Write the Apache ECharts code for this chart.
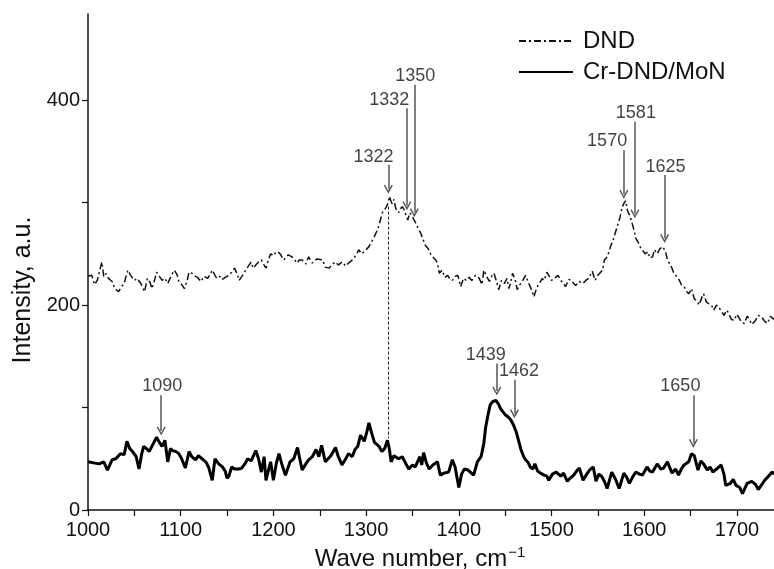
<!DOCTYPE html>
<html>
<head>
<meta charset="utf-8">
<title>Raman spectra DND / Cr-DND/MoN</title>
<script src="https://cdn.jsdelivr.net/npm/echarts@6/dist/echarts.min.js"></script>
<style>
  html, body { margin: 0; padding: 0; background: #fff; }
  #chart { width: 774px; height: 569px; }
</style>
</head>
<body>
<div id="chart"></div>
<script>
// wave number (cm-1) / intensity
const dndWave = [1000,1004,1007,1010,1013,1015,1017,1019,1022,1026,1029,1033,1036,1039,1041,1043,1046,1050,1053,1057,1059,1061,1064,1067,1069,1072,1074,1077,1080,1083,1086,1089,1093,1096,1098,1101,1104,1107,1109,1112,1114,1118,1122,1125,1129,1132,1134,1137,1139,1142,1145,1148,1152,1155,1158,1161,1163,1166,1170,1173,1176,1178,1181,1184,1187,1190,1192,1195,1197,1200,1203,1206,1208,1211,1213,1216,1220,1223,1226,1228,1231,1235,1238,1242,1244,1247,1249,1253,1256,1260,1264,1267,1270,1274,1278,1281,1284,1287,1290,1292,1295,1298,1301,1303,1306,1309,1312,1314,1316,1318,1320,1322,1324,1325,1327,1328,1330,1332,1334,1335,1337,1339,1341,1343,1345,1347,1350,1353,1356,1359,1361,1364,1367,1370,1372,1375,1377,1379,1382,1385,1388,1390,1393,1396,1399,1402,1405,1408,1411,1414,1418,1422,1425,1427,1430,1433,1436,1438,1441,1443,1446,1449,1452,1454,1456,1458,1461,1463,1466,1469,1472,1475,1478,1481,1484,1487,1490,1492,1495,1497,1500,1503,1507,1510,1513,1515,1519,1522,1526,1530,1534,1537,1540,1544,1547,1549,1552,1555,1557,1560,1562,1564,1566,1568,1570,1572,1574,1576,1578,1580,1582,1584,1586,1589,1591,1593,1596,1598,1601,1604,1606,1609,1611,1614,1617,1620,1623,1625,1627,1630,1632,1635,1638,1640,1643,1646,1648,1651,1654,1657,1659,1662,1664,1667,1670,1673,1675,1678,1681,1684,1686,1689,1691,1694,1697,1700,1702,1705,1708,1711,1713,1716,1720,1723,1727,1730,1733,1736,1740];
const dndInt = [228,229,220,224,235,242,228,231,226,223,216,213,218,221,228,234,229,224,226,221,217,213,226,222,216,225,232,228,224,226,221,227,234,230,223,220,216,224,232,231,229,227,223,228,226,230,234,229,226,228,225,227,229,232,236,230,224,228,234,238,242,236,239,242,244,239,236,245,250,248,252,251,249,244,246,249,247,244,241,244,244,240,247,241,242,245,246,244,237,236,240,242,239,242,238,241,243,246,250,254,250,252,255,257,262,267,273,278,285,291,293,296,300,306,301,299,303,294,292,290,294,296,293,294,283,290,286,281,275,270,265,258,255,249,247,244,241,231,234,227,229,226,224,228,229,218,226,224,227,224,229,226,220,234,228,223,229,231,222,215,224,221,226,216,222,231,224,215,220,224,229,222,216,208,217,221,226,224,232,229,224,226,229,224,221,218,225,223,219,223,221,224,226,233,224,228,231,234,244,247,252,258,262,268,274,280,286,295,299,302,292,288,283,273,265,262,256,257,250,252,246,247,254,250,255,257,252,244,241,236,231,228,224,220,218,213,211,216,206,204,200,207,211,203,201,199,195,200,197,193,190,195,192,186,185,191,188,183,182,189,187,181,185,190,188,184,182,189,186];

const crWave = [1000,1006,1012,1017,1021,1026,1030,1035,1039,1042,1045,1048,1052,1055,1058,1060,1063,1066,1070,1074,1077,1080,1083,1086,1089,1091,1095,1098,1101,1105,1109,1112,1116,1119,1123,1127,1130,1134,1137,1141,1145,1148,1150,1152,1155,1158,1163,1166,1170,1172,1176,1181,1184,1187,1190,1192,1195,1197,1200,1203,1206,1209,1213,1218,1222,1226,1228,1231,1235,1238,1242,1246,1249,1252,1256,1259,1262,1267,1270,1274,1278,1281,1285,1288,1291,1294,1298,1301,1303,1306,1309,1314,1317,1320,1323,1325,1327,1330,1335,1339,1343,1346,1350,1353,1358,1360,1362,1365,1368,1372,1377,1380,1384,1389,1393,1396,1400,1403,1406,1410,1416,1420,1424,1427,1429,1432,1434,1437,1440,1443,1445,1450,1453,1456,1459,1462,1465,1467,1470,1472,1475,1477,1480,1482,1485,1488,1492,1495,1497,1501,1505,1510,1513,1517,1520,1524,1527,1530,1534,1538,1541,1545,1548,1551,1554,1557,1560,1565,1569,1573,1578,1581,1584,1588,1591,1595,1598,1603,1606,1609,1614,1618,1621,1625,1630,1634,1637,1640,1643,1648,1651,1654,1658,1661,1664,1668,1671,1674,1678,1683,1686,1688,1693,1696,1699,1703,1706,1711,1716,1720,1723,1727,1730,1734,1738,1740];
const crInt = [47,46,45,47,39,49,50,55,54,67,60,57,52,40,55,62,60,57,64,71,66,62,68,47,60,58,57,55,50,41,57,52,49,53,50,47,42,29,50,45,42,38,31,33,42,40,40,41,46,50,48,58,50,37,52,29,40,47,29,45,55,45,34,47,50,61,52,39,45,49,52,59,52,63,47,50,53,61,52,44,50,55,52,59,62,73,67,77,85,75,66,62,57,60,68,60,47,53,50,52,45,40,44,42,52,44,56,46,40,44,47,34,36,37,49,42,22,35,40,39,34,47,52,65,81,95,103,106,107,103,99,93,91,88,83,76,66,59,52,49,46,42,40,45,38,36,34,33,29,35,37,33,36,28,31,34,38,41,29,35,39,42,28,35,33,28,21,37,30,21,36,32,26,33,37,35,34,42,38,37,45,40,41,47,36,40,34,40,44,47,55,53,39,48,45,39,42,37,40,44,35,24,26,30,24,22,16,26,28,25,20,25,29,33,37,35];

// axis ticks and labels
const xTicks = [1000,1050,1100,1150,1200,1250,1300,1350,1400,1450,1500,1550,1600,1650,1700];
const xLabels = [1000,1100,1200,1300,1400,1500,1600,1700];
const yTicks = [0,100,200,300,400];
const yLabels = [0,200,400];

// peak marks: text, label centre [x, y], arrow x, arrow top y, arrow tip y
const peakText  = ['1090','1322','1332','1350','1439','1462','1570','1581','1625','1650'];
const peakLabel = [[1080,121],[1308,344],[1325,400],[1353,423],[1429,151],[1465,136],[1560,360],[1591,387],[1623,335],[1639,121]];
const peakArrowX = [1079,1324,1344,1352,1441,1460,1578,1590,1622,1653];
const peakTop = [112,337,392,415,143,127,351,379,327,112];
const peakTip = [73,309,293,286,112,90,304,285,261,61];

// dotted guide between the two 1322 features
const guideX = 1324;
const guideFrom = 296;
const guideTo = 70;

const font = 'Liberation Sans, Arial, sans-serif';
const chevron = 'path://M5,0 L10,9 L8.6,9.8 L5,3.2 L1.4,9.8 L0,9 Z';

const chart = echarts.init(document.getElementById('chart'));

const arrows = peakText.map((t, i) => [
  { coord: [peakArrowX[i], peakTop[i]] },
  { coord: [peakArrowX[i], peakTip[i] + 4] }
]);

chart.setOption({
  animation: false,
  textStyle: { fontFamily: font },
  grid: { left: 88, right: 0, top: 14, bottom: 59, containLabel: false, outerBoundsMode: 'none' },
  legend: {
    orient: 'vertical',
    left: 513,
    top: 24,
    itemWidth: 54,
    itemHeight: 14,
    itemGap: 7,
    data: ['DND', 'Cr-DND/MoN'],
    itemStyle: { color: 'rgba(0,0,0,0)', borderWidth: 0, opacity: 0 },
    textStyle: { fontSize: 24, color: '#111', lineHeight: 24, padding: [0, 0, 0, 5] }
  },
  xAxis: {
    type: 'value',
    min: 1000,
    max: 1740,
    name: 'Wave number, cm{sup|−1}',
    nameLocation: 'middle',
    nameGap: 30,
    nameTextStyle: {
      fontSize: 24, color: '#111', padding: [0, 22, 0, 0],
      rich: { sup: { fontSize: 15, color: '#111', padding: [0, 0, 13, 1] } }
    },
    axisLine: { lineStyle: { color: '#111', width: 1.5 } },
    axisTick: { inside: false, length: 6, lineStyle: { color: '#111', width: 1.2 }, customValues: xTicks },
    axisLabel: { fontSize: 20, color: '#111', margin: 10, customValues: xLabels, formatter: v => String(v) },
    splitLine: { show: false }
  },
  yAxis: {
    type: 'value',
    min: 0,
    max: 484,
    name: 'Intensity, a.u.',
    nameLocation: 'middle',
    nameGap: 50,
    nameTextStyle: { fontSize: 25, color: '#111', padding: [0, 56, 0, 0] },
    axisLine: { show: true, lineStyle: { color: '#111', width: 1.5 } },
    axisTick: { show: true, inside: false, length: 6, lineStyle: { color: '#111', width: 1.2 }, customValues: yTicks },
    axisLabel: { fontSize: 20, color: '#111', margin: 8, customValues: yLabels, formatter: v => String(v) },
    splitLine: { show: false }
  },
  series: [
    {
      name: 'DND',
      type: 'line',
      symbol: 'none',
      data: dndWave.map((w, i) => [w, dndInt[i]]),
      lineStyle: { color: '#111', width: 1.5, type: [7, 3, 2, 3] }
    },
    {
      name: 'Cr-DND/MoN',
      type: 'line',
      symbol: 'none',
      data: crWave.map((w, i) => [w, crInt[i]]),
      lineStyle: { color: '#000', width: 3 }
    },
    {
      // peak labels + arrows
      name: 'peaks',
      type: 'scatter',
      symbolSize: 1,
      silent: true,
      itemStyle: { color: '#fff' },
      data: peakText.map((t, i) => ({ name: t, value: peakLabel[i] })),
      label: {
        show: true,
        position: 'inside',
        formatter: p => p.name,
        fontSize: 18,
        color: '#111',
        textBorderWidth: 0
      },
      markLine: {
        silent: true,
        symbol: ['none', chevron],
        symbolSize: 9,
        label: { show: false },
        lineStyle: { color: '#555', width: 1.5, type: 'solid' },
        data: arrows.concat([[
          { coord: [guideX, guideFrom], symbol: 'none', lineStyle: { color: '#222', width: 1, type: [3, 2] } },
          { coord: [guideX, guideTo], symbol: 'none' }
        ]])
      }
    }
  ]
});
</script>
</body>
</html>
